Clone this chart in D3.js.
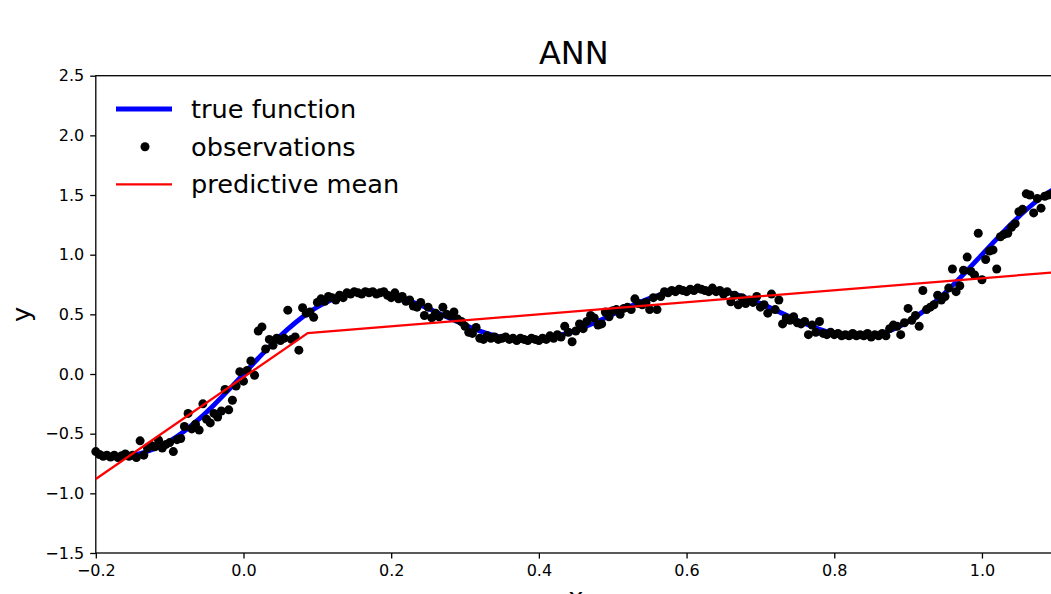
<!DOCTYPE html>
<html>
<head>
<meta charset="utf-8">
<script src="https://cdn.jsdelivr.net/npm/d3@7"></script>
<style>
  body { margin: 0; background: #fff; }
  svg { display: block; font-family: "DejaVu Sans", sans-serif; }
</style>
</head>
<body>
<svg></svg>
<script>
// tick values
var xTicks = [-0.2, 0.0, 0.2, 0.4, 0.6, 0.8, 1.0];
var yTicks = [-1.5, -1.0, -0.5, 0.0, 0.5, 1.0, 1.5, 2.0, 2.5];

// true function
var trueX = [-0.20,-0.18,-0.16,-0.14,-0.12,-0.10,-0.08,-0.06,-0.04,-0.02,0.00,0.02,0.04,0.06,0.08,0.10,0.12,0.14,0.16,0.18,
  0.20,0.22,0.24,0.26,0.28,0.30,0.32,0.34,0.36,0.38,0.40,0.42,0.44,0.46,0.48,0.50,0.52,0.54,0.56,0.58,
  0.60,0.62,0.64,0.66,0.68,0.70,0.72,0.74,0.76,0.78,0.80,0.82,0.84,0.86,0.88,0.90,0.92,0.94,0.96,0.98,
  1.00,1.02,1.04,1.06,1.08,1.10];
var trueY = [-0.662,-0.683,-0.685,-0.666,-0.625,-0.562,-0.478,-0.376,-0.259,-0.132,0.000,0.132,0.259,0.376,0.478,0.562,0.625,0.666,0.685,0.683,
  0.662,0.625,0.577,0.522,0.464,0.409,0.360,0.322,0.297,0.286,0.291,0.311,0.345,0.390,0.443,0.500,0.557,0.610,0.655,0.689,
  0.709,0.714,0.704,0.678,0.640,0.591,0.536,0.478,0.423,0.375,0.338,0.317,0.315,0.334,0.375,0.438,0.522,0.624,0.741,0.868,
  1.000,1.132,1.259,1.376,1.478,1.562];

// predictive mean (red), piecewise linear
var meanX = [-0.2, 0.087, 1.1];
var meanY = [-0.88, 0.343, 0.853];

// noisy observations [x, y]
var observations = [
  [-0.200,-0.650],[-0.195,-0.675],[-0.190,-0.690],[-0.185,-0.680],[-0.180,-0.695],[-0.175,-0.680],[-0.170,-0.700],[-0.165,-0.685],
  [-0.160,-0.670],[-0.155,-0.690],[-0.150,-0.680],[-0.145,-0.700],[-0.140,-0.560],[-0.135,-0.680],[-0.130,-0.620],[-0.125,-0.600],
  [-0.120,-0.610],[-0.115,-0.555],[-0.110,-0.620],[-0.105,-0.590],[-0.100,-0.575],[-0.095,-0.650],[-0.090,-0.550],[-0.085,-0.540],
  [-0.080,-0.440],[-0.075,-0.330],[-0.070,-0.460],[-0.065,-0.420],[-0.060,-0.470],[-0.055,-0.250],[-0.050,-0.380],[-0.045,-0.410],
  [-0.040,-0.330],[-0.035,-0.360],[-0.030,-0.310],[-0.025,-0.130],[-0.020,-0.300],[-0.015,-0.220],[-0.010,-0.100],[-0.005,0.020],
  [0.000,-0.060],[0.005,0.030],[0.010,0.110],[0.015,-0.010],[0.020,0.360],[0.025,0.395],[0.030,0.210],[0.035,0.290],
  [0.040,0.240],[0.045,0.300],[0.050,0.280],[0.055,0.300],[0.060,0.535],[0.065,0.290],[0.070,0.310],[0.075,0.200],
  [0.080,0.555],[0.085,0.510],[0.090,0.520],[0.095,0.475],[0.100,0.600],[0.105,0.630],[0.110,0.610],[0.115,0.650],
  [0.120,0.640],[0.125,0.620],[0.130,0.660],[0.135,0.640],[0.140,0.680],[0.145,0.670],[0.150,0.690],[0.155,0.680],
  [0.160,0.670],[0.165,0.690],[0.170,0.680],[0.175,0.690],[0.180,0.670],[0.185,0.680],[0.190,0.690],[0.195,0.660],
  [0.200,0.640],[0.205,0.680],[0.210,0.630],[0.215,0.650],[0.220,0.610],[0.225,0.620],[0.230,0.570],[0.235,0.560],
  [0.240,0.600],[0.245,0.490],[0.250,0.560],[0.255,0.470],[0.260,0.510],[0.265,0.480],[0.270,0.560],[0.275,0.500],
  [0.280,0.490],[0.285,0.520],[0.290,0.460],[0.295,0.440],[0.300,0.400],[0.305,0.350],[0.310,0.340],[0.315,0.390],
  [0.320,0.300],[0.325,0.290],[0.330,0.320],[0.335,0.300],[0.340,0.310],[0.345,0.290],[0.350,0.300],[0.355,0.310],
  [0.360,0.290],[0.365,0.300],[0.370,0.280],[0.375,0.300],[0.380,0.290],[0.385,0.280],[0.390,0.300],[0.395,0.290],
  [0.400,0.280],[0.405,0.300],[0.410,0.290],[0.415,0.320],[0.420,0.300],[0.425,0.330],[0.430,0.310],[0.435,0.400],
  [0.440,0.350],[0.445,0.270],[0.450,0.360],[0.455,0.420],[0.460,0.380],[0.465,0.440],[0.470,0.490],[0.475,0.470],
  [0.480,0.410],[0.485,0.420],[0.490,0.520],[0.495,0.480],[0.500,0.530],[0.505,0.540],[0.510,0.500],[0.515,0.550],
  [0.520,0.560],[0.525,0.540],[0.530,0.630],[0.535,0.590],[0.540,0.580],[0.545,0.600],[0.550,0.540],[0.555,0.640],
  [0.560,0.540],[0.565,0.650],[0.570,0.690],[0.575,0.680],[0.580,0.700],[0.585,0.690],[0.590,0.710],[0.595,0.700],
  [0.600,0.690],[0.605,0.710],[0.610,0.700],[0.615,0.720],[0.620,0.710],[0.625,0.700],[0.630,0.690],[0.635,0.720],
  [0.640,0.690],[0.645,0.700],[0.650,0.670],[0.655,0.690],[0.660,0.605],[0.665,0.660],[0.670,0.580],[0.675,0.640],
  [0.680,0.590],[0.685,0.620],[0.690,0.600],[0.695,0.650],[0.700,0.560],[0.705,0.580],[0.710,0.510],[0.715,0.670],
  [0.720,0.540],[0.725,0.620],[0.730,0.420],[0.735,0.470],[0.740,0.450],[0.745,0.480],[0.750,0.430],[0.755,0.420],
  [0.760,0.440],[0.765,0.330],[0.770,0.410],[0.775,0.350],[0.780,0.440],[0.785,0.340],[0.790,0.330],[0.795,0.350],
  [0.800,0.330],[0.805,0.340],[0.810,0.320],[0.815,0.330],[0.820,0.320],[0.825,0.340],[0.830,0.320],[0.835,0.330],
  [0.840,0.320],[0.845,0.340],[0.850,0.310],[0.855,0.330],[0.860,0.320],[0.865,0.340],[0.870,0.320],[0.875,0.380],
  [0.880,0.410],[0.885,0.400],[0.890,0.330],[0.895,0.430],[0.900,0.550],[0.905,0.450],[0.910,0.490],[0.915,0.400],
  [0.920,0.700],[0.925,0.540],[0.930,0.560],[0.935,0.580],[0.940,0.660],[0.945,0.620],[0.950,0.650],[0.955,0.720],
  [0.960,0.880],[0.965,0.690],[0.970,0.740],[0.975,0.870],[0.980,0.980],[0.985,0.860],[0.990,0.830],[0.995,1.180],
  [1.000,0.790],[1.005,0.960],[1.010,1.030],[1.015,1.040],[1.020,0.880],[1.025,1.150],[1.030,1.170],[1.035,1.180],
  [1.040,1.230],[1.045,1.260],[1.050,1.360],[1.055,1.380],[1.060,1.510],[1.065,1.500],[1.070,1.350],[1.075,1.470],
  [1.080,1.390],[1.085,1.490],[1.090,1.500],[1.095,1.510]
];

var legendLabels = ["true function", "observations", "predictive mean"];

var margin = {top: 75.7, left: 95.8},
    width = 960,
    height = 477.3;

var svg = d3.select("svg")
    .attr("width", 1051)
    .attr("height", 594);

var g = svg.append("g")
    .attr("transform", "translate(" + margin.left + "," + margin.top + ")");

var x = d3.scaleLinear().domain([-0.2, 1.1]).range([0, width]);
var y = d3.scaleLinear().domain([-1.5, 2.5]).range([height, 0]);

var fmt = function(d) { return d3.format(".1f")(d).replace("-", "\u2212"); };

// axes
var xAxis = g.append("g")
    .attr("transform", "translate(0," + height + ")")
    .call(d3.axisBottom(x).tickValues(xTicks).tickFormat(fmt).tickSize(5.6).tickPadding(6));
var yAxis = g.append("g")
    .call(d3.axisLeft(y).tickValues(yTicks).tickFormat(fmt).tickSize(5.6).tickPadding(6));

[xAxis, yAxis].forEach(function(a) {
  a.selectAll("text").style("font-size", "16px").style("font-family", "DejaVu Sans").attr("fill", "#000");
  a.selectAll("line").attr("stroke", "#000").attr("stroke-width", 1.3);
  a.select(".domain").remove();
});

// frame
g.append("rect")
    .attr("width", width).attr("height", height)
    .attr("fill", "none").attr("stroke", "#000").attr("stroke-width", 1.3);

// true function
var trueData = trueX.map(function(d, i) { return [d, trueY[i]]; });
g.append("path")
    .datum(trueData)
    .attr("fill", "none")
    .attr("stroke", "#0000ff")
    .attr("stroke-width", 4.8)
    .attr("d", d3.line().x(function(d) { return x(d[0]); }).y(function(d) { return y(d[1]); }).curve(d3.curveCatmullRom));

// observations
g.append("g")
  .selectAll("circle")
  .data(observations)
  .enter()
  .append("circle")
    .attr("cx", function(d) { return x(d[0]); })
    .attr("cy", function(d) { return y(d[1]); })
    .attr("r", 4.5)
    .attr("fill", "#000");

// predictive mean
var meanData = meanX.map(function(d, i) { return [d, meanY[i]]; });
g.append("path")
    .datum(meanData)
    .attr("fill", "none")
    .attr("stroke", "#ff0000")
    .attr("stroke-width", 2.2)
    .attr("d", d3.line().x(function(d) { return x(d[0]); }).y(function(d) { return y(d[1]); }));

// title and axis labels
svg.append("text")
    .attr("x", margin.left + width / 2 - 2).attr("y", 64)
    .attr("text-anchor", "middle")
    .style("font-size", "32px")
    .text("ANN");

svg.append("text")
    .attr("transform", "translate(30," + (margin.top + height / 2) + ") rotate(-90)")
    .attr("text-anchor", "middle")
    .style("font-size", "25.6px")
    .text("y");

// x label sits mostly below the visible area, as in the original
svg.append("text")
    .attr("x", margin.left + width / 2).attr("y", 606)
    .attr("text-anchor", "middle")
    .style("font-size", "25.6px")
    .text("x");

// legend (no frame)
var legend = svg.append("g").attr("transform", "translate(116,109)");
var rowH = 37.7;
legend.append("line").attr("x1", 0).attr("x2", 56).attr("y1", 0).attr("y2", 0)
    .attr("stroke", "#0000ff").attr("stroke-width", 4.8);
legend.append("circle").attr("cx", 29).attr("cy", rowH).attr("r", 4.5).attr("fill", "#000");
legend.append("line").attr("x1", 0).attr("x2", 56).attr("y1", 2 * rowH).attr("y2", 2 * rowH)
    .attr("stroke", "#ff0000").attr("stroke-width", 2.2);
legend.selectAll("text.lab")
  .data(legendLabels)
  .enter()
  .append("text")
    .attr("class", "lab")
    .attr("x", 75)
    .attr("y", function(d, i) { return i * rowH; })
    .attr("dy", "0.35em")
    .style("font-size", "25.6px")
    .text(function(d) { return d; });
</script>
</body>
</html>
